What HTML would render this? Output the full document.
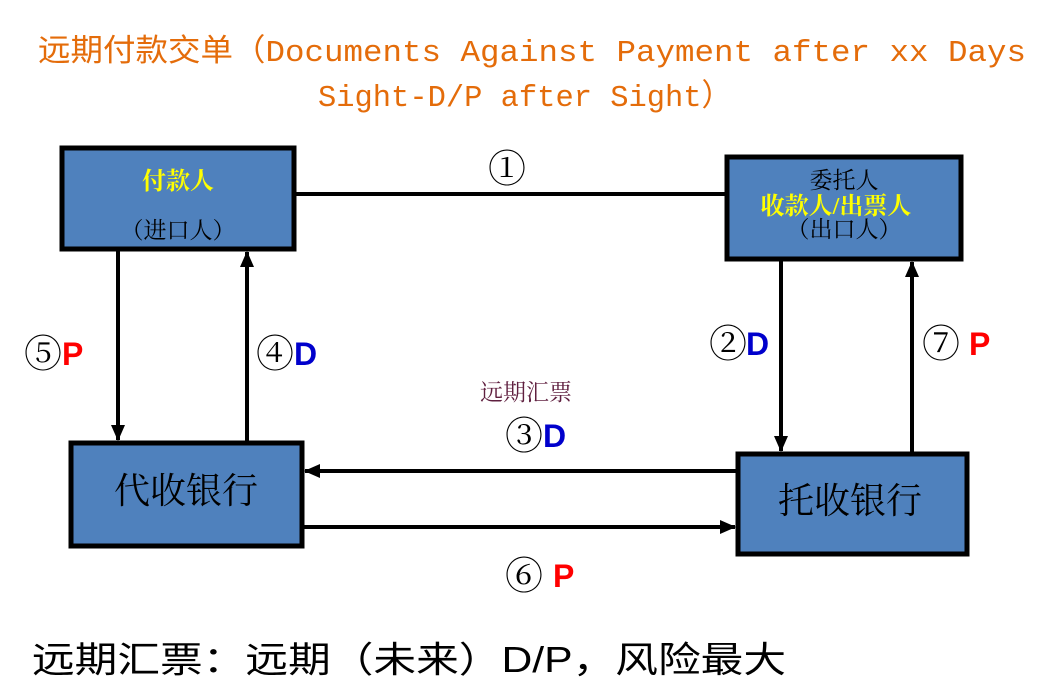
<!DOCTYPE html>
<html><head><meta charset="utf-8"><style>
html,body{margin:0;padding:0;background:#fff;}
svg{display:block;}
</style></head><body>
<svg width="1040" height="685" viewBox="0 0 1040 685" xmlns="http://www.w3.org/2000/svg">
<defs>
<marker id="ah" markerWidth="16" markerHeight="14" refX="15" refY="7" orient="auto" markerUnits="userSpaceOnUse">
<path d="M0,0 L16,7 L0,14 z" fill="#000"/>
</marker>
</defs>
<g font-family="'Liberation Mono','Noto Sans CJK SC',monospace" fill="#E46C0A" font-size="31">
<text x="38" y="61" textLength="988" lengthAdjust="spacingAndGlyphs">远期付款交单（Documents Against Payment after xx Days</text>
<text x="318" y="106" textLength="414" lengthAdjust="spacingAndGlyphs">Sight-D/P after Sight）</text>
</g>
<g fill="#4F81BD" stroke="#000" stroke-width="5">
<rect x="62" y="148" width="232" height="101"/>
<rect x="727" y="157" width="234" height="102"/>
<rect x="71" y="443" width="231" height="103"/>
<rect x="738" y="454" width="229" height="100"/>
</g>
<g stroke="#000" stroke-width="4" fill="none">
<line x1="295" y1="194" x2="726" y2="194"/>
<line x1="118" y1="251" x2="118" y2="440" marker-end="url(#ah)"/>
<line x1="247" y1="441" x2="247" y2="252" marker-end="url(#ah)"/>
<line x1="781" y1="261" x2="781" y2="451" marker-end="url(#ah)"/>
<line x1="912" y1="452" x2="912" y2="262" marker-end="url(#ah)"/>
<line x1="736" y1="471" x2="305" y2="471" marker-end="url(#ah)"/>
<line x1="303" y1="527" x2="735" y2="527" marker-end="url(#ah)"/>
</g>
<g font-family="'Liberation Serif','Noto Serif CJK SC',serif" text-anchor="middle">
<text x="178" y="189" font-size="24" fill="#FFFF00" font-weight="bold">付款人</text>
<text x="178" y="238" font-size="23" fill="#000">（进口人）</text>
<text x="844" y="188" font-size="23" fill="#000">委托人</text>
<text x="836" y="214" font-size="24" fill="#FFFF00" font-weight="bold">收款人/出票人</text>
<text x="844" y="237" font-size="23" fill="#000">（出口人）</text>
<text x="186" y="503" font-size="36" fill="#000">代收银行</text>
<text x="850" y="513" font-size="36" fill="#000">托收银行</text>
<text x="507" y="182" font-size="38" fill="#000">①</text>
<text x="526" y="400" font-size="23" fill="#5F1F3F">远期汇票</text>
</g>
<g font-family="'Liberation Serif','Noto Serif CJK SC',serif" font-size="38" fill="#000">
<text x="24" y="367">⑤</text>
<text x="256" y="367">④</text>
<text x="709" y="357">②</text>
<text x="922" y="357">⑦</text>
<text x="505" y="449">③</text>
<text x="505" y="589">⑥</text>
</g>
<g font-family="'Liberation Sans',sans-serif" font-size="32" font-weight="bold">
<text x="62" y="365" fill="#FF0000">P</text>
<text x="294" y="365" fill="#0000CC">D</text>
<text x="746" y="355" fill="#0000CC">D</text>
<text x="969" y="355" fill="#FF0000">P</text>
<text x="543" y="447" fill="#0000CC">D</text>
<text x="553" y="587" fill="#FF0000">P</text>
</g>
<text x="32" y="672" font-family="'Liberation Sans','Noto Sans CJK SC',sans-serif" font-size="36" fill="#000" textLength="754" lengthAdjust="spacingAndGlyphs">远期汇票：远期（未来）D/P，风险最大</text>
</svg>
</body></html>
